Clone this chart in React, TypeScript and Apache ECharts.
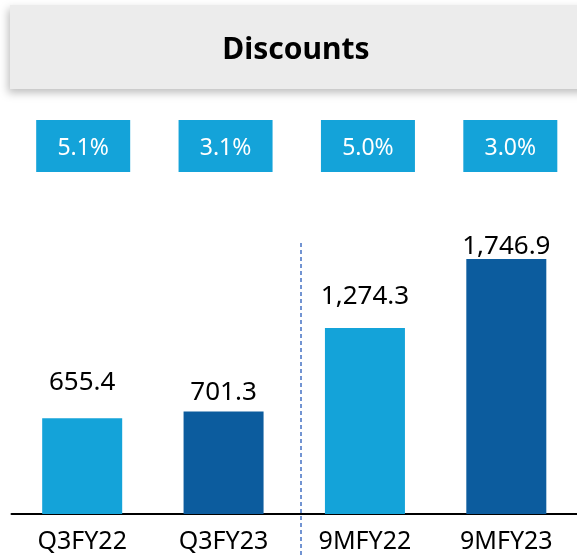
import React, { useEffect, useRef } from "react";
import * as echarts from "echarts";

const categories = ["Q3FY22", "Q3FY23", "9MFY22", "9MFY23"];
const discountValues = [655.4, 701.3, 1274.3, 1746.9];
const discountShare = ["5.1%", "3.1%", "5.0%", "3.0%"];
const valueLabels = ["655.4", "701.3", "1,274.3", "1,746.9"];

// styling only
const barColors = ["#14A3D9", "#0C5C9E", "#14A3D9", "#0C5C9E"];
const labelGaps = [25, 9, 21, 2];

const FONT = "Noto Sans";

export default function App() {
  const ref = useRef<HTMLDivElement>(null);
  useEffect(() => {
    if (!ref.current) return;
    const chart = echarts.init(ref.current, undefined, { renderer: "svg" });
    chart.setOption({
      animation: false,
      grid: { left: 11.5, right: -5.5, top: 222, bottom: 43 },
      xAxis: {
        type: "category",
        data: categories,
        axisLine: { lineStyle: { color: "#000", width: 2 } },
        axisTick: { show: false },
        axisLabel: {
          color: "#000",
          fontFamily: FONT,
          fontSize: 25,
          margin: 12,
        },
      },
      yAxis: { type: "value", min: 0, max: 2000, show: false, splitLine: { show: false } },
      series: [
        {
          type: "bar",
          barWidth: 80,
          data: discountValues.map((v, i) => ({
            value: v,
            itemStyle: { color: barColors[i] },
            label: {
              show: true,
              position: "top",
              distance: labelGaps[i],
              formatter: () => valueLabels[i],
              color: "#000",
              fontFamily: FONT,
              fontSize: 26,
            },
          })),
        },
      ],
    });

    const boxes = categories.map((c, i) => {
      const cx = chart.convertToPixel({ xAxisIndex: 0 }, c) as number;
      return {
        type: "group",
        children: [
          {
            type: "rect",
            shape: { x: cx - 46 + i, y: 120, width: 94, height: 52 },
            style: { fill: "#14A3D9" },
          },
          {
            type: "text",
            x: cx + 1 + i,
            y: 146,
            style: {
              text: discountShare[i],
              fill: "#fff",
              fontFamily: FONT,
              fontSize: 23,
              align: "center",
              verticalAlign: "middle",
            },
          },
        ],
      };
    });

    chart.setOption({
      graphic: [
        {
          type: "rect",
          shape: { x: 10, y: 5, width: 590, height: 84 },
          style: {
            fill: "#ECECEC",
            shadowBlur: 8,
            shadowOffsetX: -2,
            shadowOffsetY: 4,
            shadowColor: "rgba(0,0,0,0.25)",
          },
          z: -1,
        },
        {
          type: "text",
          x: 296,
          y: 47,
          style: {
            text: "Discounts",
            fill: "#000",
            fontFamily: FONT,
            fontSize: 30,
            fontWeight: "bold",
            align: "center",
            verticalAlign: "middle",
          },
        },
        ...boxes,
        {
          type: "line",
          shape: { x1: 301, y1: 243, x2: 301, y2: 557 },
          style: { stroke: "#4472C4", lineWidth: 1.5, lineDash: [4, 3] },
        },
      ],
    });
    return () => chart.dispose();
  }, []);
  return (
    <div
      ref={ref}
      style={{ position: "fixed", left: 0, top: 0, width: 577, height: 557 }}
    />
  );
}
